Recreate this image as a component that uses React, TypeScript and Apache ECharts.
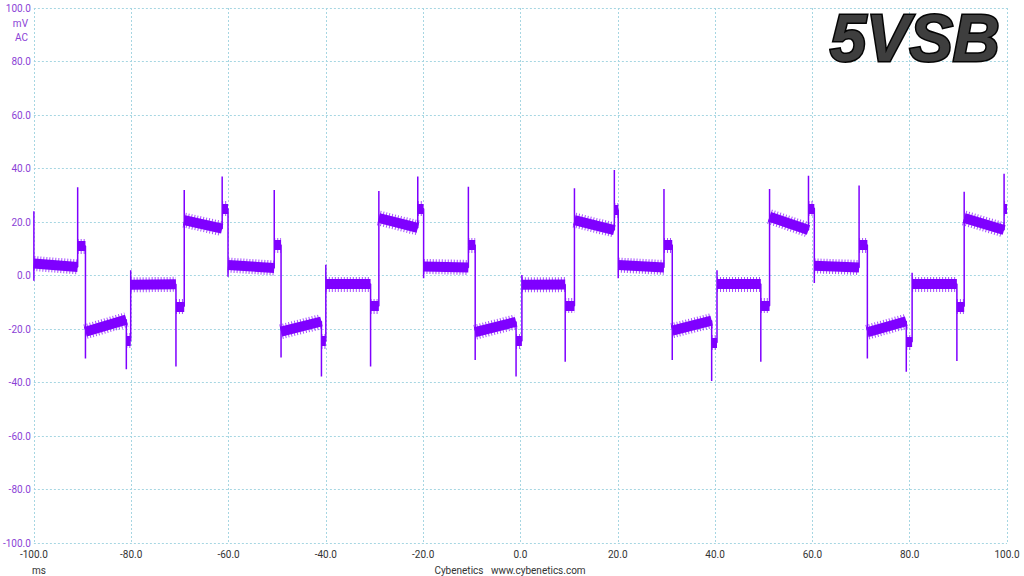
import React, { useEffect, useRef } from "react";
import * as echarts from "echarts";

// Plateau segments of the ripple trace: [tStart ms, tEnd ms, vStart mV, vEnd mV]
const plateaus: number[][] = [
  [-100, -91, 4.5, 3.2],
  [-91, -89.4, 11, 11],
  [-89.4, -81, -21, -16.5],
  [-81, -80.1, -24.3, -24.3],
  [-80.1, -70.8, -3.5, -3.3],
  [-70.8, -69.1, -11.5, -11.5],
  [-69.1, -61.3, 20.7, 17.5],
  [-61.3, -60.1, 25, 25],

  [-60.1, -50.6, 3.9, 2.8],
  [-50.6, -49.2, 11.4, 11.4],
  [-49.2, -40.9, -21, -17.2],
  [-40.9, -40.0, -24.5, -24.5],
  [-40.0, -30.8, -3.2, -3.2],
  [-30.8, -29.1, -11.4, -11.4],
  [-29.1, -21.1, 21.5, 17.8],
  [-21.1, -19.9, 25, 25],

  [-19.9, -10.7, 3.4, 3.0],
  [-10.7, -9.3, 11.4, 11.4],
  [-9.3, -0.9, -21.2, -17.3],
  [-0.9, 0.3, -24.5, -24.5],
  [0.3, 9.2, -3.5, -3.4],
  [9.2, 11.1, -11.3, -11.3],
  [11.1, 19.3, 20.7, 17],
  [19.3, 20.1, 24.5, 24.5],

  [20.1, 29.5, 3.9, 3.0],
  [29.5, 31.2, 11.4, 11.4],
  [31.2, 39.3, -20.6, -16.9],
  [39.3, 40.4, -25, -25],
  [40.4, 49.4, -3.2, -3.2],
  [49.4, 51.2, -11.3, -11.3],
  [51.2, 59.2, 22, 17],
  [59.2, 60.4, 25.1, 25.1],

  [60.4, 69.6, 3.6, 3.0],
  [69.6, 71.3, 11.4, 11.4],
  [71.3, 79.3, -21.2, -17.1],
  [79.3, 80.5, -24.8, -24.8],
  [80.5, 89.7, -3.2, -3.2],
  [89.7, 91.2, -11.5, -11.5],
  [91.2, 99.4, 21.5, 17],
  [99.4, 100, 25, 25],
];

// Transient spike peak at the start of each plateau: [t ms, peak mV]
const spikes: number[][] = [
  [-100, 24], [-91, 33], [-89.4, -31], [-81, -35], [-80.1, 2], [-70.8, -34], [-69.1, 32], [-61.3, 37],
  [-60.1, -0.5], [-50.6, 32], [-49.2, -30.7], [-40.9, -37.8], [-40.0, 4], [-30.8, -34], [-29.1, 31.6], [-21.1, 37],
  [-19.9, -1], [-10.7, 33.2], [-9.3, -31.6], [-0.9, -37.8], [0.3, 0.2], [9.2, -32.2], [11.1, 32.6], [19.3, 39.4],
  [20.1, -1], [29.5, 32.3], [31.2, -31.6], [39.3, -39.4], [40.4, 2], [49.4, -32.2], [51.2, 32.3], [59.2, 37.3],
  [60.4, -2.8], [69.6, 33.6], [71.3, -31], [79.3, -36], [80.5, 1], [89.7, -32], [91.2, 31.3], [99.4, 38],
];

// Dip right after the first spike at the left edge
const startDip = -2;

const TRACE = "#7f00ff";
const Y_LABEL = "#8b3fd6";
const X_LABEL = "#333333";
const GRID = "#a6d6e2";
const FONT = "Roboto";

function buildTrace(): number[][] {
  const pts: number[][] = [];
  plateaus.forEach((p, i) => {
    const [t0, t1, v0, v1] = p;
    const s = spikes[i];
    pts.push([s[0], s[1]]);
    if (i === 0) pts.push([s[0], startDip]);
    pts.push([t0, v0]);
    pts.push([t1, v1]);
  });
  return pts;
}

export default function App() {
  const ref = useRef<HTMLDivElement>(null);

  useEffect(() => {
    if (!ref.current) return;
    const chart = echarts.init(ref.current, undefined, { renderer: "svg" });
    const bandData = plateaus.map((p) => ({
      coords: [
        [p[0], p[2]],
        [p[1], p[3]],
      ],
    }));

    chart.setOption({
      animation: false,
      backgroundColor: "#ffffff",
      grid: { left: 31, right: 17, top: 8, bottom: 33, containLabel: false },
      xAxis: {
        type: "value",
        min: -100,
        max: 100,
        interval: 20,
        axisLine: { show: false },
        axisTick: { show: false },
        axisLabel: {
          color: X_LABEL,
          fontFamily: FONT,
          fontSize: 10,
          margin: 6,
          formatter: (v: number) => v.toFixed(1),
        },
        splitLine: { show: true, lineStyle: { color: GRID, type: [2, 2], width: 1 } },
      },
      yAxis: {
        type: "value",
        min: -100,
        max: 100,
        interval: 20,
        axisLine: { show: false },
        axisTick: { show: false },
        axisLabel: {
          color: Y_LABEL,
          fontFamily: FONT,
          fontSize: 10,
          margin: 3,
          formatter: (v: number) => v.toFixed(1),
        },
        splitLine: { show: true, lineStyle: { color: GRID, type: [2, 2], width: 1 } },
      },
      series: [
        {
          type: "lines",
          coordinateSystem: "cartesian2d",
          silent: true,
          data: bandData,
          lineStyle: { color: TRACE, width: 15, opacity: 0.7, type: [1, 2] },
          z: 2,
        },
        {
          type: "lines",
          coordinateSystem: "cartesian2d",
          silent: true,
          data: bandData,
          lineStyle: { color: TRACE, width: 10, opacity: 1 },
          z: 3,
        },
        {
          type: "line",
          data: buildTrace(),
          showSymbol: false,
          symbol: "none",
          silent: true,
          lineStyle: { color: TRACE, width: 1.5 },
          z: 4,
        },
      ],
      graphic: [
        {
          type: "text",
          x: 28,
          y: 23,
          style: {
            text: "mV",
            fill: Y_LABEL,
            font: `10px ${FONT}`,
            align: "right",
            textAlign: "right",
            verticalAlign: "middle",
            textVerticalAlign: "middle",
          },
        },
        {
          type: "text",
          x: 28,
          y: 37,
          style: {
            text: "AC",
            fill: Y_LABEL,
            font: `10px ${FONT}`,
            align: "right",
            textAlign: "right",
            verticalAlign: "middle",
            textVerticalAlign: "middle",
          },
        },
        {
          type: "text",
          x: 32,
          y: 570,
          style: {
            text: "ms",
            fill: X_LABEL,
            font: `10px ${FONT}`,
            align: "left",
            textAlign: "left",
            verticalAlign: "middle",
            textVerticalAlign: "middle",
          },
        },
        {
          type: "text",
          x: 510,
          y: 570,
          style: {
            text: "Cybenetics   www.cybenetics.com",
            fill: X_LABEL,
            font: `10px ${FONT}`,
            align: "center",
            textAlign: "center",
            verticalAlign: "middle",
            textVerticalAlign: "middle",
          },
        },
        {
          type: "text",
          x: 830,
          y: 37.5,
          scaleY: 1.03,
          z: 10,
          style: {
            text: "5VSB",
            font: 'italic bold 65px "Liberation Sans"',
            align: "left",
            textAlign: "left",
            verticalAlign: "middle",
            textVerticalAlign: "middle",
            fill: "#3e3e3e",
            stroke: "#050505",
            lineWidth: 3,
            shadowColor: "rgba(0,0,0,0.35)",
            shadowBlur: 2,
            shadowOffsetX: 1,
            shadowOffsetY: 1,
          },
        },
      ],
    });
    return () => chart.dispose();
  }, []);

  return (
    <div
      ref={ref}
      style={{ position: "fixed", left: 0, top: 0, width: 1024, height: 576 }}
    />
  );
}
